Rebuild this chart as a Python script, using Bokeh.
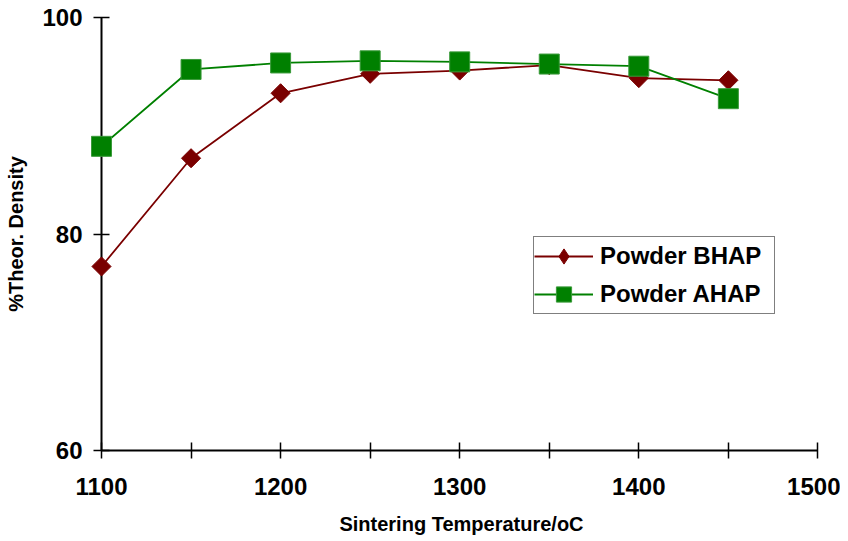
from bokeh.plotting import figure
from bokeh.models import Range1d, FixedTicker, Legend, LegendItem
from bokeh.embed import file_html
from bokeh.resources import INLINE
import math

# ---- data ----
temps = [1100, 1150, 1200, 1250, 1300, 1350, 1400, 1450]
bhap = [77.0, 87.0, 93.0, 94.8, 95.1, 95.6, 94.4, 94.2]
ahap = [88.1, 95.2, 95.8, 96.0, 95.9, 95.7, 95.5, 92.5]
x_ticks = [1100, 1150, 1200, 1250, 1300, 1350, 1400, 1450, 1500]
x_tick_labels = ["1100", "", "1200", "", "1300", "", "1400", "", "1500"]
y_ticks = [60, 80, 100]
x_title = "Sintering Temperature/oC"
y_title = "%Theor. Density"
series_names = ["Powder BHAP", "Powder AHAP"]

FONT = "Liberation Sans"
RED = "#7a0000"
GREEN = "#008000"

p = figure(width=840, height=540, output_backend="svg", toolbar_location=None,
           x_range=Range1d(1100, 1502), y_range=Range1d(60, 100),
           min_border_left=101, min_border_right=19, min_border_top=17, min_border_bottom=90)
p.outline_line_color = None
p.grid.visible = False

for ax in (p.xaxis[0], p.yaxis[0]):
    ax.axis_line_width = 2
    ax.axis_line_color = "black"
    ax.major_tick_line_width = 1.5
    ax.major_tick_line_color = "black"
    ax.major_tick_in = 8
    ax.major_tick_out = 8
    ax.minor_tick_line_color = None
    ax.major_label_text_font = FONT
    ax.major_label_text_font_style = "bold"
    ax.major_label_text_font_size = "24px"
    ax.major_label_text_color = "black"
    ax.axis_label_text_font = FONT
    ax.axis_label_text_font_style = "bold"
    ax.axis_label_text_font_size = "20px"
    ax.axis_label_text_color = "black"

p.xaxis.ticker = FixedTicker(ticks=x_ticks)
p.xaxis.major_label_overrides = {t: l for t, l in zip(x_ticks, x_tick_labels)}
p.xaxis.bounds = (x_ticks[0], x_ticks[-1])
p.xaxis.axis_label = x_title
p.xaxis.major_label_standoff = 19
p.xaxis.axis_label_standoff = 15

p.yaxis.ticker = FixedTicker(ticks=y_ticks)
p.yaxis.bounds = (y_ticks[0], y_ticks[-1])
p.yaxis.axis_label = y_title
p.yaxis.major_label_standoff = 11
p.yaxis.axis_label_standoff = 12

l1 = p.line(temps, bhap, line_color=RED, line_width=1.8)
l2 = p.line(temps, ahap, line_color=GREEN, line_width=1.8)
# diamond marker (used for the legend); covered in the plot by the rotated squares below
s1_leg = p.scatter(temps, bhap, marker="diamond", size=17,
                   fill_color=RED, line_color=RED, line_width=1)
# diamonds drawn as squares rotated by 45 degrees
s1 = p.scatter(temps, bhap, marker="square", angle=math.pi / 4, size=13.5,
               fill_color=RED, line_color=RED, line_width=1, level="overlay")
s2 = p.scatter(temps, ahap, marker="square", size=20,
               fill_color=GREEN, line_color="#3a9a3a", line_width=1, level="overlay")

legend = Legend(items=[LegendItem(label=series_names[0], renderers=[l1, s1_leg]),
                       LegendItem(label=series_names[1], renderers=[l2, s2])],
                location=(432, 136), orientation="vertical",
                label_text_font=FONT, label_text_font_style="bold",
                label_text_font_size="24px", label_text_color="black",
                glyph_width=59, glyph_height=38, label_height=38, label_width=174,
                label_standoff=7, padding=0, spacing=0, margin=0,
                border_line_color="black", border_line_width=1.5,
                background_fill_color="white", background_fill_alpha=1)
p.add_layout(legend, "center")

open("out.html", "w").write(file_html(p, INLINE))
